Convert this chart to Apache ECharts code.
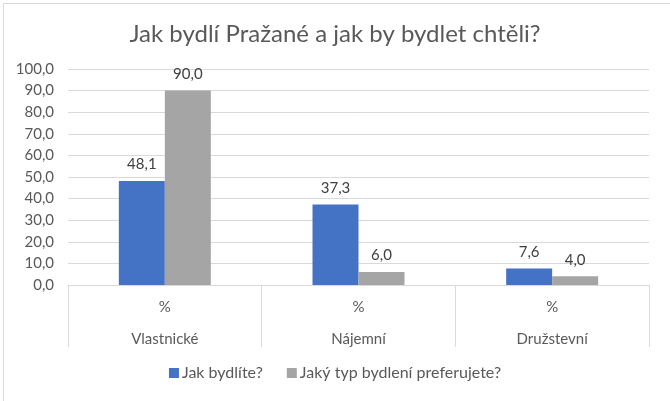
<!DOCTYPE html>
<html>
<head>
<meta charset="utf-8">
<script src="https://cdn.jsdelivr.net/npm/echarts@6/dist/echarts.min.js"></script>
<style>html,body{margin:0;padding:0;background:#fff}#c{width:670px;height:401px}</style>
</head>
<body>
<div id="c"></div>
<script>
var categories = ['Vlastnické', 'Nájemní', 'Družstevní'];
var unitLabel = '%';
var seriesNames = ['Jak bydlíte?', 'Jaký typ bydlení preferujete?'];
var current = [48.1, 37.3, 7.6];
var preferred = [90.0, 6.0, 4.0];
var yTicks = [0, 10, 20, 30, 40, 50, 60, 70, 80, 90, 100];

function fmt(v) { return Number(v).toFixed(1).replace('.', ','); }
var FONT = 'Lato';
var chart = echarts.init(document.getElementById('c'));
chart.setOption({
  animation: false,
  textStyle: { fontFamily: FONT },
  title: {
    text: 'Jak bydlí Pražané a jak by bydlet chtěli?',
    left: 'center', top: 17,
    textStyle: { fontFamily: FONT, fontSize: 24, fontWeight: 'normal', color: '#595959' }
  },
  graphic: [{
    type: 'rect', left: 1, top: 1,
    shape: { width: 667, height: 398 },
    style: { fill: 'none', stroke: '#D9D9D9', lineWidth: 1 }
  }],
  legend: {
    data: seriesNames,
    bottom: 15, left: 'center',
    itemWidth: 10, itemHeight: 10, itemGap: 24,
    icon: 'rect',
    textStyle: { fontFamily: FONT, fontSize: 16, color: '#595959', padding: [0, 0, 0, -2] }
  },
  grid: { left: 68, right: 21, top: 69, bottom: 116, containLabel: false },
  xAxis: {
    type: 'category',
    data: categories,
    axisLine: { show: true, lineStyle: { color: '#D9D9D9' } },
    axisTick: { show: true, length: 62, interval: 0, lineStyle: { color: '#D9D9D9' } },
    axisLabel: {
      interval: 0, margin: 10,
      formatter: function (v) { return '{p|' + unitLabel + '}\n{c|' + v + '}'; },
      rich: {
        p: { fontFamily: FONT, fontSize: 15, color: '#595959', lineHeight: 24 },
        c: { fontFamily: FONT, fontSize: 15, color: '#595959', lineHeight: 40 }
      }
    }
  },
  yAxis: {
    type: 'value', min: yTicks[0], max: yTicks[yTicks.length - 1], interval: 10,
    axisLine: { show: false }, axisTick: { show: false },
    splitLine: { lineStyle: { color: '#D9D9D9' } },
    axisLabel: { formatter: fmt, fontFamily: FONT, fontSize: 15, color: '#595959', margin: 14 }
  },
  series: [
    {
      name: seriesNames[0], type: 'bar', data: current,
      barWidth: 46, barGap: '0%',
      itemStyle: { color: '#4472C4' },
      label: { show: true, position: 'top', distance: 9, formatter: function (p) { return fmt(p.value); },
        fontFamily: FONT, fontSize: 15, color: '#404040' }
    },
    {
      name: seriesNames[1], type: 'bar', data: preferred,
      barWidth: 46, barGap: '0%',
      itemStyle: { color: '#A5A5A5' },
      label: { show: true, position: 'top', distance: 9, formatter: function (p) { return fmt(p.value); },
        fontFamily: FONT, fontSize: 15, color: '#404040' }
    }
  ]
});
</script>
</body>
</html>
